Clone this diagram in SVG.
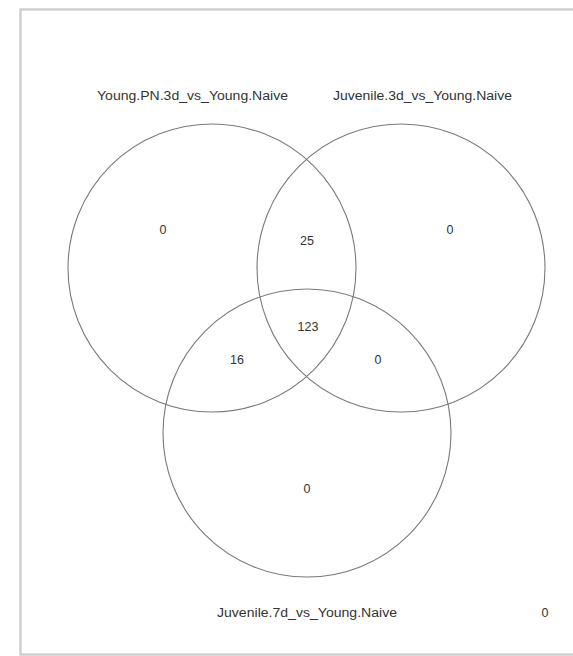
<svg xmlns="http://www.w3.org/2000/svg" width="573" height="656" viewBox="0 0 573 656">
<style>
.frame{fill:none;stroke:#cfcfcf;stroke-width:2.5}
.set{fill:none;stroke:#7a7a7a;stroke-width:1.1}
.lbl{font-family:"Liberation Sans",Arial,sans-serif;font-size:12.5px;fill:#333;text-anchor:middle}
.num{font-family:"Liberation Sans",Arial,sans-serif;font-size:12.5px;fill:#333;text-anchor:middle}
</style>
<rect x="0" y="0" width="573" height="656" fill="#ffffff"/>
<path class="frame" d="M573,9.5 H20.5 V654.5 H573"/>
<g id="set-young-pn-3d">
<circle class="set" cx="212" cy="268" r="144"/>
<text class="lbl" x="192.5" y="99.5" textLength="191" lengthAdjust="spacingAndGlyphs">Young.PN.3d_vs_Young.Naive</text>
</g>
<g id="set-juvenile-3d">
<circle class="set" cx="401" cy="268" r="144"/>
<text class="lbl" x="422.5" y="99.5" textLength="179" lengthAdjust="spacingAndGlyphs">Juvenile.3d_vs_Young.Naive</text>
</g>
<g id="set-juvenile-7d">
<circle class="set" cx="307" cy="433" r="144"/>
<text class="lbl" x="307" y="616.5" textLength="180" lengthAdjust="spacingAndGlyphs">Juvenile.7d_vs_Young.Naive</text>
</g>
<g id="counts">
<text class="num" x="163" y="233.5">0</text>
<text class="num" x="450" y="233.5">0</text>
<text class="num" x="307" y="244.5">25</text>
<text class="num" x="308" y="330.5">123</text>
<text class="num" x="237" y="363.5">16</text>
<text class="num" x="378" y="363.5">0</text>
<text class="num" x="307" y="492.5">0</text>
<text class="num" x="545" y="616.5">0</text>
</g>
</svg>
